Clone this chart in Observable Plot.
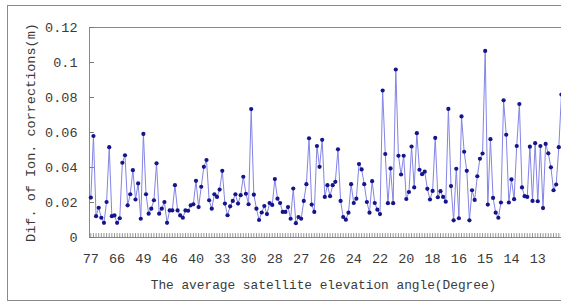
<!DOCTYPE html>
<html>
<head>
<meta charset="utf-8">
<script src="https://cdn.jsdelivr.net/npm/d3@7"></script>
<script src="https://cdn.jsdelivr.net/npm/@observablehq/plot@0.6"></script>
<style>
  html, body { margin: 0; padding: 0; background: #fff; overflow: hidden; width: 561px; height: 302px; }
  #border { position: absolute; left: 7px; top: 5px; width: 700px; height: 294px; border: 1px solid #8a8a8a; }
  #chart { position: absolute; left: 0; top: 0; width: 640px; height: 302px; }
  #chart svg { max-width: none !important; }
</style>
</head>
<body>
<div id="border"></div>
<div id="chart"></div>
<script>
// Difference of ionospheric corrections (m), one value per epoch, in order
const values = [
  0.0228, 0.058, 0.0122, 0.017, 0.0113, 0.0084, 0.0203, 0.0516, 0.0122, 0.0126,
  0.0084, 0.011, 0.0427, 0.047, 0.0184, 0.0247, 0.0385, 0.0217, 0.0309, 0.0107,
  0.0592, 0.0247, 0.0136, 0.0165, 0.0213, 0.0424, 0.0136, 0.0165, 0.0203, 0.0084,
  0.0155, 0.0155, 0.0299, 0.0155, 0.0126, 0.0113, 0.0155, 0.0153, 0.0184, 0.019,
  0.0324, 0.0174, 0.029, 0.0404, 0.0443, 0.0213, 0.0165, 0.0247, 0.0232, 0.0274,
  0.0381, 0.0194, 0.0127, 0.0178, 0.0209, 0.0247, 0.0194, 0.0242, 0.0347, 0.025,
  0.019, 0.0734, 0.0245, 0.0165, 0.0100, 0.0143, 0.018, 0.0134, 0.0197, 0.0186,
  0.0334, 0.0222, 0.0197, 0.0146, 0.0146, 0.0174, 0.0107, 0.028, 0.0082, 0.0117,
  0.0107, 0.0209, 0.0305, 0.0567, 0.0188, 0.0146, 0.0523, 0.0404, 0.0558, 0.0232,
  0.0299, 0.0236, 0.0299, 0.0318, 0.0504, 0.0209, 0.0117, 0.0102, 0.0142, 0.0305,
  0.0197, 0.0222, 0.042, 0.0389, 0.0305, 0.0203, 0.0142, 0.0322, 0.0197, 0.0159,
  0.0134, 0.084, 0.0477, 0.0196, 0.0395, 0.0196, 0.096, 0.0467, 0.036, 0.0467,
  0.022, 0.026, 0.052, 0.0286, 0.0596, 0.0387, 0.0362, 0.0376, 0.0278, 0.0217,
  0.0266, 0.0569, 0.023, 0.0265, 0.0232, 0.0205, 0.0735, 0.0294, 0.0098, 0.0393,
  0.011, 0.0692, 0.049, 0.0381, 0.0098, 0.027, 0.0215, 0.035, 0.045, 0.048,
  0.1066, 0.0188, 0.0562, 0.0226, 0.0142, 0.0113, 0.02, 0.0784, 0.0587, 0.02,
  0.0332, 0.0219, 0.0523, 0.0763, 0.0286, 0.0236, 0.0232, 0.0519, 0.0209, 0.0539,
  0.0207, 0.0523, 0.0168, 0.0535, 0.0481, 0.0401, 0.027, 0.0303, 0.0516, 0.0817
];

// Average satellite elevation angle labels (one every 10 epochs)
const xTickIndex = [0, 10, 20, 30, 40, 50, 60, 70, 80, 90, 100, 110, 120, 130, 140, 150, 160, 170];
const xTickLabels = ["77", "66", "49", "46", "40", "33", "30", "28", "27", "26", "24", "22", "20", "18", "16", "15", "14", "13"];

const yTicks = [0, 0.02, 0.04, 0.06, 0.08, 0.1, 0.12];
const yTickLabels = ["0", "0.02", "0.04", "0.06", "0.08", "0.1", "0.12"];

const xTitle = "The average satellite elevation angle(Degree)";
const yTitle = "Dif. of Ion. corrections(m)";

const data = values.map((v, i) => ({i, v}));
const xLabelData = xTickIndex.map((i, k) => ({i, label: xTickLabels[k]}));
const yLabelData = yTicks.map((v, k) => ({v, label: yTickLabels[k]}));

const lineShape = {
  draw(context, l) { context.moveTo(0, 0); context.lineTo(0, -l); }
};

const chart = Plot.plot({
  width: 640,
  height: 302,
  marginLeft: 89,
  marginRight: 37,
  marginTop: 27,
  marginBottom: 65,
  x: {domain: [-0.5, 195], axis: null},
  y: {domain: [0, 0.12], axis: null},
  style: {fontFamily: "'Liberation Mono', monospace", fontSize: "13px", color: "#3a3a3a", background: "transparent", maxWidth: "none"},
  marks: [
    Plot.frame({stroke: "#8a8a8a"}),
    // inward minor ticks along the bottom, one per epoch
    Plot.vector(data, {x: "i", frameAnchor: "bottom", length: 4, rotate: 0, anchor: "start", shape: lineShape, stroke: "#777", strokeWidth: 0.8}),
    // inward ticks on the y axis
    Plot.vector(yTicks, {y: d => d, frameAnchor: "left", length: 4, rotate: 90, anchor: "start", shape: lineShape, stroke: "#777", strokeWidth: 1}),
    Plot.line(data, {x: "i", y: "v", stroke: "#8484e6", strokeWidth: 1}),
    Plot.dot(data, {x: "i", y: "v", r: 2.1, fill: "#14148c", stroke: "none"}),
    Plot.text(xLabelData, {x: "i", text: "label", frameAnchor: "bottom", dy: 25, textAnchor: "middle", fill: "#3a3a3a", fontSize: 13.5}),
    Plot.text(yLabelData, {y: "v", text: "label", frameAnchor: "left", dx: -12, textAnchor: "end", fill: "#3a3a3a", fontSize: 13.5}),
    Plot.text([yTitle], {text: d => d, frameAnchor: "left", dx: -59, rotate: -90, textAnchor: "middle", fill: "#3a3a3a", fontSize: 13.5}),
    Plot.text([xTitle], {text: d => d, frameAnchor: "bottom-left", dx: 234, dy: 51, textAnchor: "middle", fill: "#3a3a3a", fontSize: 12.8})
  ]
});
document.getElementById("chart").appendChild(chart);
</script>
</body>
</html>
